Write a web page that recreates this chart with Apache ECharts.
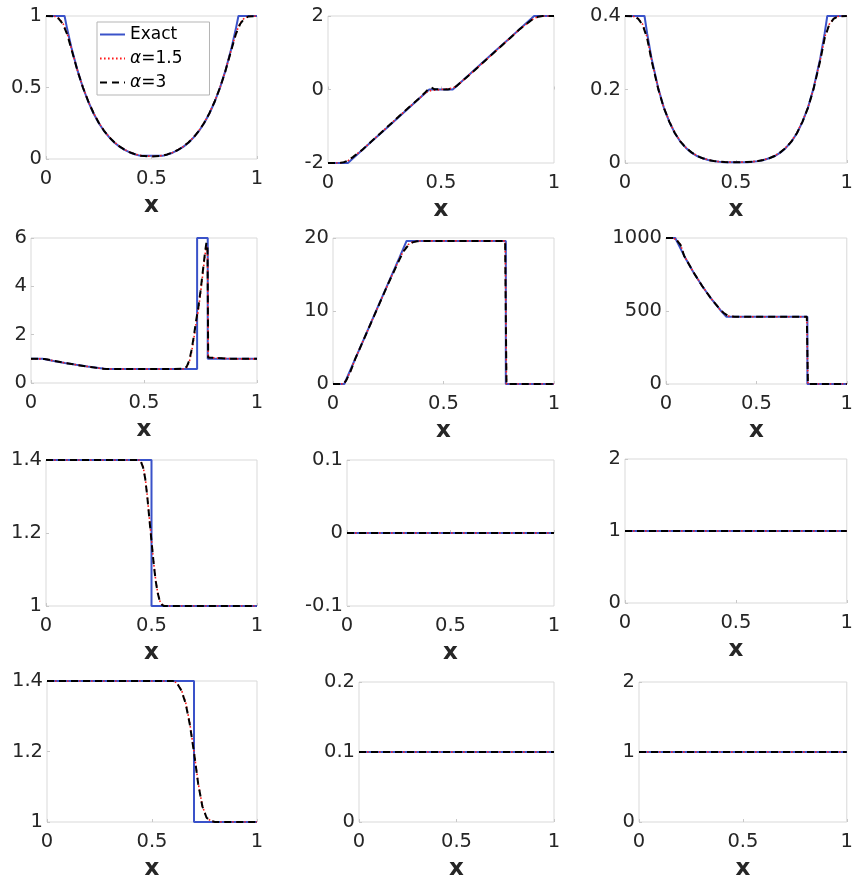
<!DOCTYPE html>
<html><head><meta charset="utf-8">
<script src="https://cdn.jsdelivr.net/npm/echarts@6/dist/echarts.min.js"></script>
<style>html,body{margin:0;padding:0;background:#fff}#c{width:856px;height:882px}</style>
</head><body><div id="c"></div>
<script>
// ---------- data ----------
const seriesNames = ['Exact', 'α=1.5', 'α=3'];
const xTicks = [0, 0.5, 1];
const yTicks = [
  [0, 0.5, 1], [-2, 0, 2], [0, 0.2, 0.4],
  [0, 2, 4, 6], [0, 10, 20], [0, 500, 1000],
  [1, 1.2, 1.4], [-0.1, 0, 0.1], [0, 1, 2],
  [1, 1.2, 1.4], [0, 0.1, 0.2], [0, 1, 2]
];

// Panel 1-3: double rarefaction
const xE1 = [0,0.088,0.1,0.12,0.15,0.175,0.2,0.225,0.25,0.275,0.3,0.325,0.35,0.375,0.4,0.425,0.448,0.552,0.575,0.6,0.625,0.65,0.675,0.7,0.725,0.75,0.775,0.8,0.825,0.85,0.88,0.9,0.912,1];
const rhoE1 = [1,1,0.912,0.782,0.616,0.500,0.402,0.320,0.252,0.196,0.151,0.114,0.085,0.062,0.044,0.031,0.022,0.022,0.031,0.044,0.062,0.085,0.114,0.151,0.196,0.252,0.320,0.402,0.500,0.616,0.782,0.912,1,1];
const pE1 = [0.4,0.4,0.352,0.284,0.203,0.151,0.112,0.081,0.058,0.041,0.028,0.019,0.0127,0.0082,0.0051,0.0031,0.0019,0.0019,0.0031,0.0051,0.0082,0.0127,0.019,0.028,0.041,0.058,0.081,0.112,0.151,0.203,0.284,0.352,0.4,0.4];
const xN1 = [0,0.04,0.06,0.08,0.1,0.12,0.15,0.175,0.2,0.225,0.25,0.275,0.3,0.325,0.35,0.375,0.4,0.425,0.45,0.5,0.55,0.575,0.6,0.625,0.65,0.675,0.7,0.725,0.75,0.775,0.8,0.825,0.85,0.88,0.9,0.92,0.94,0.96,1];
const rhoA15_1 = [1,0.998,0.985,0.95,0.88,0.775,0.615,0.501,0.405,0.323,0.255,0.198,0.153,0.116,0.087,0.064,0.046,0.033,0.024,0.018,0.024,0.033,0.046,0.064,0.087,0.116,0.153,0.198,0.255,0.323,0.405,0.501,0.615,0.775,0.88,0.95,0.985,0.998,1];
const rhoA3_1 = [1,0.997,0.982,0.944,0.874,0.771,0.613,0.500,0.404,0.322,0.254,0.197,0.152,0.115,0.086,0.063,0.045,0.032,0.023,0.017,0.023,0.032,0.045,0.063,0.086,0.115,0.152,0.197,0.254,0.322,0.404,0.500,0.613,0.771,0.874,0.944,0.982,0.997,1];
const pA15_1 = [0.4,0.399,0.393,0.377,0.342,0.28,0.202,0.151,0.113,0.082,0.059,0.042,0.029,0.020,0.013,0.0085,0.0055,0.0036,0.0026,0.002,0.0026,0.0036,0.0055,0.0085,0.013,0.020,0.029,0.042,0.059,0.082,0.113,0.151,0.202,0.28,0.342,0.377,0.393,0.399,0.4];
const pA3_1 = [0.4,0.399,0.392,0.375,0.339,0.278,0.201,0.150,0.112,0.081,0.058,0.041,0.029,0.019,0.013,0.0084,0.0054,0.0035,0.0025,0.0019,0.0025,0.0035,0.0054,0.0084,0.013,0.019,0.029,0.041,0.058,0.081,0.112,0.150,0.201,0.278,0.339,0.375,0.392,0.399,0.4];

const xE2 = [0,0.088,0.1,0.15,0.2,0.25,0.3,0.35,0.4,0.448,0.552,0.6,0.65,0.7,0.75,0.8,0.85,0.9,0.912,1];
const uE2 = [-2,-2,-1.932,-1.654,-1.376,-1.099,-0.821,-0.543,-0.265,0,0,0.265,0.543,0.821,1.099,1.376,1.654,1.932,2,2];
const xN2 = [0,0.05,0.07,0.09,0.11,0.15,0.2,0.25,0.3,0.35,0.4,0.43,0.445,0.455,0.47,0.5,0.53,0.545,0.555,0.57,0.6,0.65,0.7,0.75,0.8,0.85,0.89,0.91,0.93,0.95,1];
const uA15_2 = [-2,-2,-1.98,-1.93,-1.84,-1.65,-1.37,-1.09,-0.81,-0.53,-0.26,-0.1,-0.05,-0.03,-0.02,0,0.02,0.03,0.05,0.1,0.26,0.53,0.81,1.09,1.37,1.65,1.84,1.93,1.98,2,2];
const uA3_2 = [-2,-2,-1.98,-1.93,-1.84,-1.65,-1.37,-1.09,-0.81,-0.53,-0.26,-0.08,0.02,0.06,0.01,0,0,0.02,0.04,0.1,0.26,0.53,0.81,1.09,1.37,1.65,1.84,1.93,1.98,2,2];

// Panel 4-6: strong blast
const xE4 = [0,0.051,0.1,0.15,0.2,0.25,0.3,0.333,0.735,0.735,0.782,0.782,1];
const rhoE4 = [1,1,0.912,0.829,0.752,0.681,0.616,0.575,0.575,6,6,1,1];
const xN4 = [0,0.04,0.06,0.08,0.1,0.15,0.2,0.25,0.3,0.32,0.34,0.36,0.4,0.5,0.6,0.68,0.69,0.7,0.71,0.72,0.73,0.74,0.75,0.76,0.77,0.776,0.781,0.784,0.79,0.9,1];
const rhoA15_4 = [1,1,0.99,0.96,0.915,0.83,0.753,0.682,0.617,0.594,0.58,0.576,0.575,0.575,0.575,0.58,0.66,0.86,1.25,1.8,2.45,3.0,3.7,4.5,5.3,5.65,5.55,1.05,1,1,1];
const rhoA3_4 = [1,1,0.99,0.96,0.915,0.83,0.753,0.682,0.617,0.594,0.58,0.576,0.575,0.575,0.575,0.59,0.7,0.92,1.35,1.9,2.55,3.1,3.8,4.6,5.4,5.8,5.7,1.05,1,1,1];

const xE5 = [0,0.051,0.1,0.15,0.2,0.25,0.3,0.333,0.782,0.782,1];
const uE5 = [0,0,3.40,6.88,10.35,13.82,17.29,19.6,19.6,0,0];
const pE5 = [1000,1000,879,769,671,584,507,461,461,0.01,0.01];
const xN5 = [0,0.04,0.05,0.06,0.08,0.1,0.15,0.2,0.25,0.3,0.32,0.34,0.36,0.38,0.4,0.6,0.779,0.782,0.785,1];
const uA15_5 = [0,0,0.1,0.5,1.8,3.4,6.85,10.3,13.75,17.1,18.3,19.1,19.45,19.57,19.6,19.6,19.6,10,0,0];
const uA3_5 = [0,0,0.1,0.5,1.8,3.4,6.85,10.3,13.75,17.0,18.2,19.0,19.4,19.55,19.6,19.6,19.6,9,0,0];
const pA15_5 = [1000,1000,997,985,955,880,770,672,585,508,484,467,462,461,461,461,461,230,0.01,0.01];
const pA3_5 = [1000,1000,997,984,953,879,769,671,584,509,486,469,463,461,461,461,461,220,0.01,0.01];

// Panel 7-9: stationary contact
const xE7 = [0,0.5,0.5,1];
const rhoE7 = [1.4,1.4,1,1];
const xN7 = [0,0.44,0.45,0.46,0.47,0.48,0.49,0.5,0.51,0.52,0.53,0.54,0.55,0.56,1];
const rhoA15_7 = [1.4,1.4,1.396,1.382,1.352,1.302,1.24,1.18,1.12,1.07,1.035,1.013,1.004,1.0,1.0];
const rhoA3_7 = [1.4,1.4,1.395,1.38,1.35,1.3,1.238,1.178,1.118,1.068,1.034,1.012,1.003,1.0,1.0];
const xFlat = [0,1];
const uE8 = [0,0], uA15_8 = [0,0], uA3_8 = [0,0];
const pE9 = [1,1], pA15_9 = [1,1], pA3_9 = [1,1];

// Panel 10-12: moving contact
const xE10 = [0,0.7,0.7,1];
const rhoE10 = [1.4,1.4,1,1];
const xN10 = [0,0.6,0.62,0.64,0.66,0.68,0.7,0.72,0.74,0.76,0.78,0.8,1];
const rhoA15_10 = [1.4,1.4,1.394,1.375,1.34,1.28,1.2,1.11,1.045,1.013,1.003,1.0,1.0];
const rhoA3_10 = [1.4,1.4,1.393,1.373,1.337,1.277,1.197,1.108,1.044,1.012,1.003,1.0,1.0];
const uE11 = [0.1,0.1], uA15_11 = [0.1,0.1], uA3_11 = [0.1,0.1];
const pE12 = [1,1], pA15_12 = [1,1], pA3_12 = [1,1];

// ---------- layout ----------
const panels = [
  [[xE1, rhoE1], [xN1, rhoA15_1], [xN1, rhoA3_1]],
  [[xE2, uE2], [xN2, uA15_2], [xN2, uA3_2]],
  [[xE1, pE1], [xN1, pA15_1], [xN1, pA3_1]],
  [[xE4, rhoE4], [xN4, rhoA15_4], [xN4, rhoA3_4]],
  [[xE5, uE5], [xN5, uA15_5], [xN5, uA3_5]],
  [[xE5, pE5], [xN5, pA15_5], [xN5, pA3_5]],
  [[xE7, rhoE7], [xN7, rhoA15_7], [xN7, rhoA3_7]],
  [[xFlat, uE8], [xFlat, uA15_8], [xFlat, uA3_8]],
  [[xFlat, pE9], [xFlat, pA15_9], [xFlat, pA3_9]],
  [[xE10, rhoE10], [xN10, rhoA15_10], [xN10, rhoA3_10]],
  [[xFlat, uE11], [xFlat, uA15_11], [xFlat, uA3_11]],
  [[xFlat, pE12], [xFlat, pA15_12], [xFlat, pA3_12]]
];
const boxes = [
  [46,16,211,143],[328,16,226,147],[625,16,225,147],
  [31,238,226,145],[333,238,221,146],[666,238,184,146],
  [46,460,211,146],[347,460,207,146],[625,459,226,144],
  [47,681,210,143],[359,682,195,146],[639,682,212,146]
];

const FONT = '"DejaVu Sans", "Noto Sans", sans-serif';
const TXT = '#262626';
const BOX = '#d9d9d9';
const lineStyles = [
  {color: '#3a52c9', width: 2, type: 'solid'},
  {color: '#ff1a1a', width: 1.6, type: [1.6, 2.4]},
  {color: '#000000', width: 2, type: [7, 5]}
];
const fmt = v => String(+v.toFixed(6));
const zip = (xs, ys) => xs.map((x, i) => [x, ys[i]]);
const step = t => Math.round((t[1] - t[0]) * 1e6) / 1e6;

const option = {
  animation: false,
  backgroundColor: '#ffffff',
  legend: {
    data: seriesNames,
    left: 97, top: 22, orient: 'vertical',
    itemWidth: 25, itemHeight: 12, itemGap: 7,
    backgroundColor: '#ffffff', borderColor: '#b5b5b5', borderWidth: 1,
    padding: [4, 27, 4, 2],
    selectedMode: false,
    itemStyle: {color: 'rgba(0,0,0,0)', borderColor: 'rgba(0,0,0,0)', borderWidth: 0, opacity: 0},
    formatter: n => n.charAt(0) === 'α' ? '{i|α}' + n.slice(1) : n,
    textStyle: {
      fontSize: 17, color: '#000', fontFamily: FONT,
      rich: {i: {fontStyle: 'italic', fontSize: 17, color: '#000', fontFamily: FONT}}
    }
  },
  grid: boxes.map(b => ({left: b[0], top: b[1], width: b[2], height: b[3],
    show: true, borderColor: BOX, borderWidth: 1, backgroundColor: 'transparent'})),
  xAxis: boxes.map((b, i) => ({
    type: 'value', gridIndex: i,
    min: xTicks[0], max: xTicks[xTicks.length - 1], interval: step(xTicks),
    axisLine: {show: false},
    axisTick: {show: true, inside: true, length: 3, lineStyle: {color: '#c8c8c8'}},
    splitLine: {show: false},
    axisLabel: {fontSize: 19.5, color: TXT, fontFamily: FONT, margin: 10, formatter: fmt},
    name: 'x', nameLocation: 'middle', nameGap: 36,
    nameTextStyle: {fontSize: 23, fontWeight: 'bold', color: TXT, fontFamily: FONT}
  })),
  yAxis: boxes.map((b, i) => ({
    type: 'value', gridIndex: i,
    min: yTicks[i][0], max: yTicks[i][yTicks[i].length - 1], interval: step(yTicks[i]),
    axisLine: {show: false},
    axisTick: {show: true, inside: true, length: 3, lineStyle: {color: '#c8c8c8'}},
    splitLine: {show: false},
    axisLabel: {fontSize: 19.5, color: TXT, fontFamily: FONT, margin: 4, formatter: fmt}
  })),
  series: []
};
panels.forEach((p, i) => {
  p.forEach((s, k) => {
    option.series.push({
      type: 'line', name: seriesNames[k],
      xAxisIndex: i, yAxisIndex: i,
      data: zip(s[0], s[1]),
      symbol: 'none', showSymbol: false, silent: true,
      lineStyle: lineStyles[k],
      itemStyle: {color: lineStyles[k].color},
      z: 2 + k
    });
  });
});
const chart = echarts.init(document.getElementById('c'), null, {renderer: 'canvas'});
chart.setOption(option);
</script>
</body></html>
